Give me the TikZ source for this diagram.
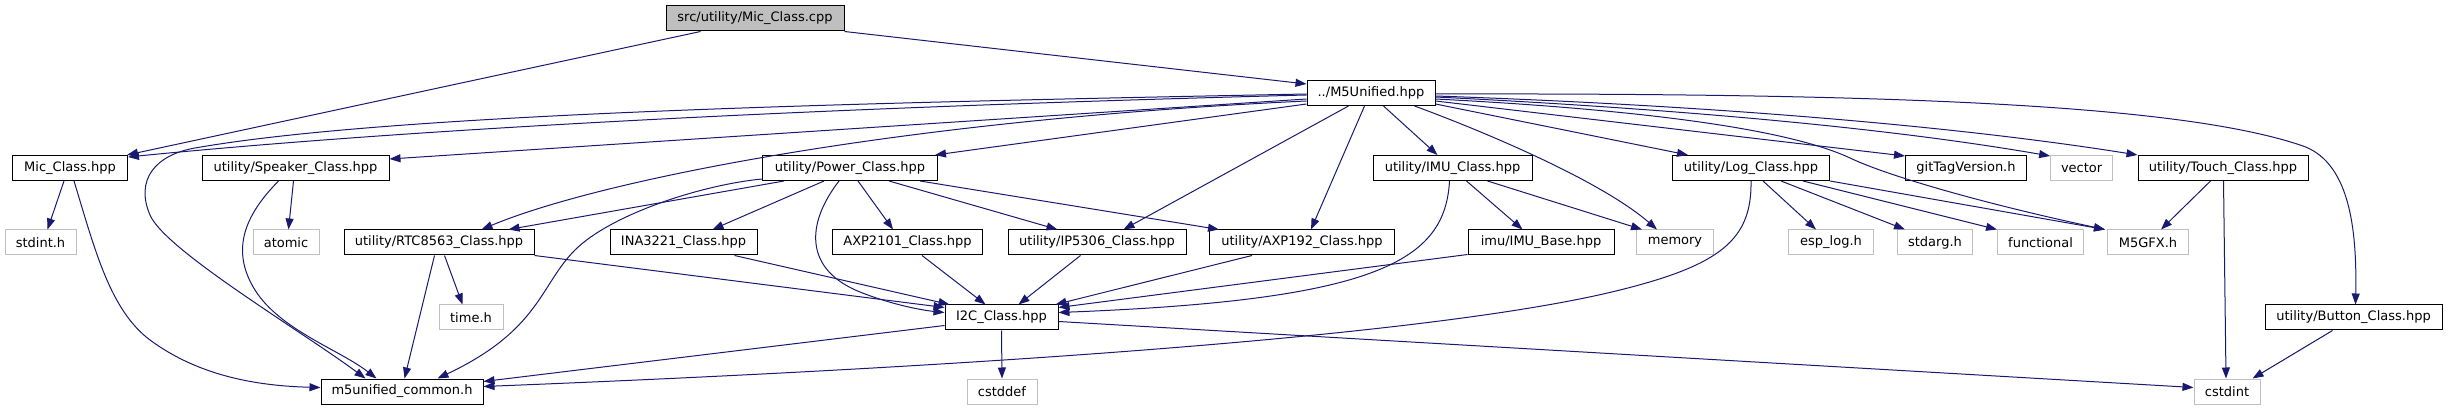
\documentclass[tikz,border=0pt]{standalone}
\usepackage{fontspec}
\setmainfont{DejaVu Sans}
\usetikzlibrary{arrows.meta}
\definecolor{edgeblue}{HTML}{191970}
\definecolor{boxgray}{HTML}{BFBFBF}
\definecolor{topgray}{HTML}{BFBFBF}
\tikzset{
  hbox/.style={draw=black, line width=1pt, minimum height=25pt, inner sep=0pt, anchor=center, font=\fontsize{13}{15}\selectfont},
  gbox/.style={hbox, draw=boxgray},
  edge/.style={draw=edgeblue, line width=1pt, -{Triangle[length=11pt,width=8pt]}}
}
\begin{document}
\begin{tikzpicture}[x=1pt,y=-1pt]
\useasboundingbox (0,0) rectangle (2448,411);
% row 0
\node[hbox, minimum width=178pt, fill=topgray] (cpp) at (755,18.5) {src/utility/Mic\_Class.cpp};
% row 1
\node[hbox, minimum width=128pt] (m5u) at (1371,93) {../M5Unified.hpp};
% row 2
\node[hbox, minimum width=115pt] (mic) at (70,168) {Mic\_Class.hpp};
\node[hbox, minimum width=187pt] (spk) at (295.5,168) {utility/Speaker\_Class.hpp};
\node[hbox, minimum width=175pt] (pwr) at (850,168) {utility/Power\_Class.hpp};
\node[hbox, minimum width=159pt] (imu) at (1452.5,168) {utility/IMU\_Class.hpp};
\node[hbox, minimum width=157pt] (log) at (1751,168) {utility/Log\_Class.hpp};
\node[hbox, minimum width=121pt] (git) at (1966,168) {gitTagVersion.h};
\node[gbox, minimum width=62pt] (vector) at (2081.6,168) {vector};
\node[hbox, minimum width=170pt] (touch) at (2223,168) {utility/Touch\_Class.hpp};
% row 3
\node[gbox, minimum width=71pt] (stdint) at (40.5,242.5) {stdint.h};
\node[gbox, minimum width=66pt] (atomic) at (286,242.5) {atomic};
\node[hbox, minimum width=190pt] (rtc) at (439,242.5) {utility/RTC8563\_Class.hpp};
\node[hbox, minimum width=147pt] (ina) at (683.5,242.5) {INA3221\_Class.hpp};
\node[hbox, minimum width=150pt] (axp2101) at (907.5,242.5) {AXP2101\_Class.hpp};
\node[hbox, minimum width=178pt] (ip5306) at (1097,242.5) {utility/IP5306\_Class.hpp};
\node[hbox, minimum width=185pt] (axp192) at (1302,242.5) {utility/AXP192\_Class.hpp};
\node[hbox, minimum width=146pt] (imubase) at (1541,242.5) {imu/IMU\_Base.hpp};
\node[gbox, minimum width=77pt] (memory) at (1675,242.5) {memory};
\node[gbox, minimum width=85pt] (esplog) at (1831,242.5) {esp\_log.h};
\node[gbox, minimum width=75pt] (stdarg) at (1935,242.5) {stdarg.h};
\node[gbox, minimum width=86pt] (functional) at (2040.5,242.5) {functional};
\node[gbox, minimum width=81pt] (m5gfx) at (2148,242.5) {M5GFX.h};
% row 4
\node[gbox, minimum width=64pt] (time) at (471,317.5) {time.h};
\node[hbox, minimum width=113pt] (i2c) at (1001.5,317.5) {I2C\_Class.hpp};
\node[hbox, minimum width=177pt] (button) at (2353.5,317.5) {utility/Button\_Class.hpp};
% row 5
\node[hbox, minimum width=162pt] (common) at (402,391.5) {m5unified\_common.h};
\node[gbox, minimum width=70pt] (cstddef) at (1002,391.5) {cstddef};
\node[gbox, minimum width=66pt] (cstdint) at (2227,391.5) {cstdint};

% edges
\draw[edge] ([xshift=35pt]cpp.south west) -- ([xshift=-1pt]mic.north east);
\draw[edge] (cpp.south east) -- ([yshift=-4pt]m5u.north west);
\draw[edge] ([yshift=-2pt]m5u.west) .. controls (800,108) and (400,130) .. ([yshift=-2pt]mic.north east);
\draw[edge] ([yshift=-1pt]m5u.west) .. controls (900,102) and (400,112) .. (195,148) .. controls (155,155) and (135,180) .. (150,215) .. controls (165,250) and (300,330) .. ([xshift=45pt]common.north west);
\draw[edge] ([yshift=-6pt]m5u.west) -- ([yshift=-4pt]spk.north east);
\draw[edge] ([yshift=-11pt]m5u.west) -- ([xshift=-3pt]pwr.north east);
\draw[edge] ([yshift=-8pt]m5u.west) .. controls (900,120) and (600,180) .. ([xshift=138pt]rtc.north west);
\draw[edge] ([xshift=22pt]pwr.south west) -- ([xshift=165pt]rtc.north west);
\draw[edge] ([xshift=42pt]m5u.south west) -- ([xshift=116pt]ip5306.north west);
\draw[edge] ([xshift=58pt]m5u.south west) -- ([xshift=102pt]axp192.north west);
\draw[edge] ([xshift=127pt]pwr.south west) -- ([xshift=50pt]ip5306.north west);
\draw[edge] ([xshift=158pt]pwr.south west) -- ([xshift=10pt]axp192.north west);
\draw[edge] ([xshift=62pt]pwr.south west) -- ([xshift=103pt]ina.north west);
\draw[edge] ([xshift=96pt]pwr.south west) -- ([xshift=61pt]axp2101.north west);
\draw[edge] ([xshift=77pt]pwr.south west) .. controls (805,225) and (805,270) .. (860,292) .. controls (890,304) and (920,310) .. ([yshift=-8pt]i2c.north west);
\draw[edge] ([yshift=2pt]pwr.south west) .. controls (700,185) and (610,215) .. (575,250) .. controls (540,285) and (540,330) .. ([xshift=117pt]common.north west);
\draw[edge] ([xshift=77pt]m5u.south west) -- ([xshift=65pt]imu.north west);
\draw[edge] ([xshift=108pt]m5u.south west) .. controls (1480,130) and (1600,180) .. ([xshift=21pt]memory.north west);
\draw[edge] ([xshift=115pt]imu.south west) -- ([xshift=6pt]memory.north west);
\draw[edge] ([xshift=94pt]imu.south west) -- ([xshift=55pt]imubase.north west);
\draw[edge] ([xshift=77pt]imu.south west) .. controls (1445,260) and (1380,300) .. ([yshift=-8pt]i2c.north east);
\draw[edge] ([yshift=1pt]imubase.south west) -- ([yshift=-3pt]i2c.north east);
\draw[edge] ([xshift=43pt]axp192.south west) -- ([xshift=-3pt]i2c.north east);
\draw[edge] ([xshift=-23pt]ina.south east) -- ([xshift=5pt]i2c.north west);
\draw[edge] (rtc.south east) -- ([yshift=-3pt]i2c.north west);
\draw[edge] ([xshift=90pt]axp2101.south west) -- ([xshift=41pt]i2c.north west);
\draw[edge] ([xshift=73pt]ip5306.south west) -- ([xshift=74pt]i2c.north west);
\draw[edge] ([xshift=91pt]rtc.south west) -- ([xshift=84pt]common.north west);
\draw[edge] ([xshift=101pt]rtc.south west) -- ([xshift=24pt]time.north west);
\draw[edge] ([xshift=52pt]mic.south west) -- ([xshift=43pt]stdint.north west);
\draw[edge] ([xshift=62pt]mic.south west) .. controls (95,250) and (110,310) .. (150,340) .. controls (200,377) and (260,386) .. ([yshift=4pt]common.west);
\draw[edge] ([xshift=92pt]spk.south west) -- ([xshift=36pt]atomic.north west);
\draw[edge] ([xshift=77pt]spk.south west) .. controls (245,215) and (230,250) .. (255,290) .. controls (280,330) and (340,350) .. ([xshift=56pt]common.north west);
\draw[edge] ([yshift=-8pt]i2c.west) -- ([yshift=-3pt]common.north east);
\draw[edge] ([xshift=79pt]log.south west) .. controls (1752,240) and (1720,265) .. (1620,290) .. controls (1420,340) and (900,370) .. ([yshift=5pt]common.east);
\draw[edge] (i2c.south) -- (cstddef.north);
\draw[edge] ([yshift=-4pt]i2c.east) -- ([yshift=4pt]cstdint.west);
\draw[edge] ([xshift=73pt]touch.south west) -- ([xshift=54pt]m5gfx.north west);
\draw[edge] ([xshift=86pt]touch.south west) -- ([xshift=-1pt]cstdint.north);
\draw[edge] ([xshift=68pt]button.south west) -- ([xshift=-8pt]cstdint.north east);
\draw[edge] ([yshift=-1pt]m5u.east) .. controls (1900,93) and (2180,105) .. (2300,145) .. controls (2350,160) and (2357,230) .. ([xshift=91pt]button.north west);
\draw[edge] ([yshift=-3pt]m5u.east) .. controls (1700,105) and (1950,125) .. (touch.north west);
\draw[edge] ([yshift=-4pt]m5u.east) .. controls (1700,110) and (1900,130) .. ([yshift=-1pt]vector.north west);
\draw[edge] ([yshift=-8pt]m5u.east) -- ([yshift=-1pt]git.north west);
\draw[edge] ([yshift=-6pt]m5u.east) .. controls (1650,110) and (1790,130) .. (1850,158) .. controls (1890,177) and (1990,205) .. ([xshift=-2pt]m5gfx.north west);
\draw[edge] ([yshift=-11pt]m5u.east) -- ([xshift=16pt]log.north west);
\draw[edge] ([xshift=91pt]log.south west) -- ([xshift=28pt]esplog.north west);
\draw[edge] ([xshift=109pt]log.south west) -- ([xshift=8pt]stdarg.north west);
\draw[edge] ([xshift=131pt]log.south west) -- (functional.north west);
\draw[edge] (log.south east) -- ([xshift=-2pt]m5gfx.north west);
\end{tikzpicture}
\end{document}
